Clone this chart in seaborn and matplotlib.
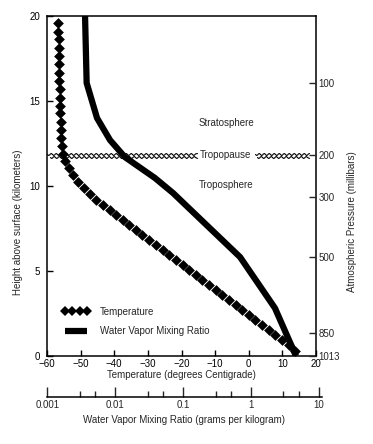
import matplotlib
matplotlib.use("Agg")
import matplotlib.pyplot as plt
from matplotlib.lines import Line2D
import seaborn as sns
import pandas as pd

# temperature markers (degrees C, km)
temp_value = [-56.6, -56.6, -56.5, -56.5, -56.4, -56.4, -56.3, -56.3, -56.2,
              -56.2, -56.1, -56.0, -55.9, -55.8, -55.7, -55.6, -55.3,
              -54.5, -53.5, -52.2, -50.9, -49.1, -47.2, -45.4,
              -43.4, -41.4, -39.5, -37.5, -35.5, -33.5, -31.6, -29.6, -27.6,
              -25.6, -23.7, -21.7, -19.7, -17.7, -15.8, -13.8, -11.8, -9.8,
              -7.9, -5.9, -3.9, -1.9, 0.0, 2.0, 4.0, 6.0, 7.9, 9.9, 11.9, 13.9]
temp_height = [19.57, 19.08, 18.63, 18.14, 17.65, 17.16, 16.67, 16.18, 15.69,
               15.19, 14.71, 14.28, 13.78, 13.29, 12.84, 12.37, 11.88,
               11.45, 11.05, 10.65, 10.25, 9.9, 9.55, 9.2,
               8.88, 8.58, 8.29, 8.0, 7.7, 7.41, 7.11, 6.82, 6.52,
               6.23, 5.94, 5.64, 5.35, 5.05, 4.76, 4.47, 4.17, 3.88,
               3.58, 3.29, 3.0, 2.7, 2.41, 2.11, 1.82, 1.52, 1.23, 0.94, 0.62, 0.28]

# water vapor mixing ratio (g/kg vs km)
vapor_height = [20.0, 16.06, 14.0, 12.7, 11.7, 10.47, 9.59, 5.82, 2.82, 0.0]
vapor_ratio = [0.0036, 0.0038, 0.0054, 0.0084, 0.0139, 0.0385, 0.071, 0.69, 2.25, 4.6]

# pressure ticks on the right side
pressure_height = [16.06, 11.8, 9.35, 5.82, 1.35, 0.0]
pressure_labels = ["100", "200", "300", "500", "850", "1013"]

temp_ticks = [-60, -50, -40, -30, -20, -10, 0, 10, 20]
height_ticks = [0, 5, 10, 15, 20]
ratio_ticks = [0.001, 0.01, 0.1, 1, 10]
ratio_labels = ["0.001", "0.01", "0.1", "1", "10"]

sns.set_style("ticks")
plt.rcParams["font.family"] = ["Liberation Sans", "DejaVu Sans"]
plt.rcParams["font.size"] = 7

W, H = 373, 444
fig = plt.figure(figsize=(W / 100, H / 100), dpi=100)
ax = fig.add_axes([47 / W, 88 / H, 269 / W, 340 / H])

temp_df = pd.DataFrame({"t": temp_value, "h": temp_height})
vapor_df = pd.DataFrame({"w": vapor_ratio, "h": vapor_height})

sns.scatterplot(data=temp_df, x="t", y="h", ax=ax, color="black", marker="D",
                s=30, linewidth=0, zorder=3)

ax.set_xlim(-60, 20)
ax.set_ylim(0, 20)
ax.set_xticks(temp_ticks)
ax.set_yticks(height_ticks)
ax.set_xlabel("Temperature (degrees Centigrade)", labelpad=1)
ax.set_ylabel("Height above surface (kilometers)")
ax.yaxis.set_label_coords(-0.089, 0.394)
ax.tick_params(direction="in", length=4, width=1, pad=2, colors="black")
ax.tick_params(axis="y", pad=5)
for s in ax.spines.values():
    s.set_linewidth(1.1)
    s.set_color("black")

# water vapor on its own log scale
ax_w = ax.twiny()
ax_w.set_xscale("log")
sns.lineplot(data=vapor_df, x="w", y="h", sort=False, estimator=None, ax=ax_w,
             color="black", linewidth=4.5, solid_capstyle="butt")
ax_w.set_xlim(10 ** -3.004, 10 ** 0.957)
ax_w.set_ylim(0, 20)
ax_w.xaxis.set_visible(False)
for s in ax_w.spines.values():
    s.set_visible(False)

# pressure on the right
ax_p = ax.twinx()
ax_p.set_ylim(0, 20)
ax_p.set_yticks(pressure_height, labels=pressure_labels)
ax_p.tick_params(direction="in", length=5, width=1, pad=2)
ax_p.set_ylabel("Atmospheric Pressure (millibars)")
ax_p.yaxis.set_label_coords(1.115, 0.394)
for s in ax_p.spines.values():
    s.set_visible(False)

# tropopause marker: double wavy line
for y0, shift in [(11.9, 0.0), (11.68, 0.75)]:
    for x0, x1 in [(-60, -15.5), (1.8, 17.9)]:
        wave, = ax.plot([x0 + shift, x1], [y0, y0], color="black", linewidth=0.8)
        wave.set_sketch_params(scale=1.0, length=5.0, randomness=1.0)

ax.text(-6.6, 13.7, "Stratosphere", ha="center", va="center")
ax.text(-7.0, 11.8, "Tropopause", ha="center", va="center")
ax.text(-6.6, 10.05, "Troposphere", ha="center", va="center")

handles = [
    Line2D([], [], color="black", marker="D", linestyle="none", markersize=5.5,
           markeredgewidth=0),
    Line2D([], [], color="black", linewidth=4.5, solid_capstyle="butt"),
]
ax_p.legend(handles, ["Temperature", "Water Vapor Mixing Ratio"], loc="upper left",
            bbox_to_anchor=(0.056, 0.145), frameon=False, borderpad=0,
            borderaxespad=0, numpoints=4, handlelength=2.9, handletextpad=1.0,
            labelspacing=0.95)

# lower mixing-ratio scale
ax_r = fig.add_axes([47.3 / W, (H - 397) / H, (321.7 - 47.3) / W, 0.0001])
ax_r.set_xscale("log")
ax_r.set_xlim(0.001, 10.96)
ax_r.set_xticks(ratio_ticks, labels=ratio_labels)
ax_r.set_xticks([m * d for d in [0.001, 0.01, 0.1, 1] for m in (3, 5)], minor=True)
ax_r.xaxis.set_minor_formatter(matplotlib.ticker.NullFormatter())
ax_r.set_yticks([])
ax_r.tick_params(axis="x", which="major", direction="in", length=7, width=1, pad=2)
ax_r.tick_params(axis="x", which="minor", direction="in", length=4, width=1)
for k in ["top", "left", "right"]:
    ax_r.spines[k].set_visible(False)
ax_r.spines["bottom"].set_linewidth(1.1)
ax_r.spines["bottom"].set_color("black")
ax_r.patch.set_visible(False)
ax_r.set_xlabel("Water Vapor Mixing Ratio (grams per kilogram)", labelpad=4)

fig.savefig("out.png", dpi=100)
